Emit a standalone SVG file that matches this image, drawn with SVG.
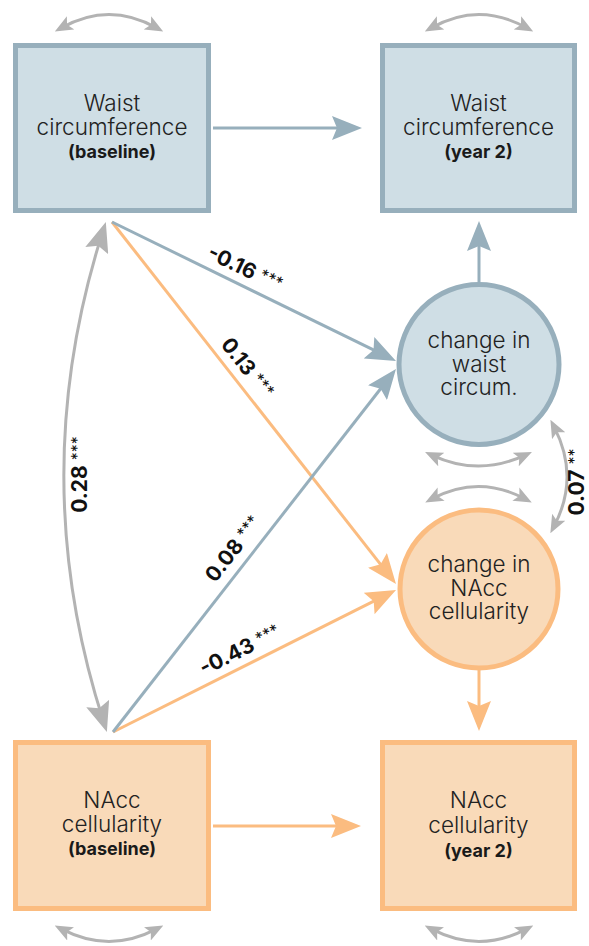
<svg xmlns="http://www.w3.org/2000/svg" width="589" height="946" viewBox="0 0 589 946">
<style>
.bbox{fill:#cfdee5;stroke:#97afbc;stroke-width:5}
.obox{fill:#f9dab9;stroke:#fbbc80;stroke-width:5}
.t{font-family:Inter,"Liberation Sans",sans-serif;font-size:22.5px;font-weight:300;fill:#222;text-anchor:middle}
.s{font-family:Inter,"Liberation Sans",sans-serif;font-size:18px;font-weight:700;fill:#1a1a1a;text-anchor:middle}
.lab{font-family:Inter,"Liberation Sans",sans-serif;font-size:21px;font-weight:700;fill:#111;text-anchor:middle}
.st{font-size:16px;font-weight:400}
.bl{fill:none;stroke:#97afbc;stroke-width:3}
.ol{fill:none;stroke:#fbbc80;stroke-width:3}
.gl{fill:none;stroke:#b3b3b3;stroke-width:3}
</style>
<defs>
<marker id="ab" markerUnits="userSpaceOnUse" markerWidth="30" markerHeight="24" viewBox="0 0 30 24" refX="18" refY="12" orient="auto"><path d="M0,0 L30,12 L0,24 L5,12 z" fill="#97afbc"/></marker>
<marker id="ao" markerUnits="userSpaceOnUse" markerWidth="30" markerHeight="24" viewBox="0 0 30 24" refX="18" refY="12" orient="auto"><path d="M0,0 L30,12 L0,24 L5,12 z" fill="#fbbc80"/></marker>
<marker id="ag" markerUnits="userSpaceOnUse" markerWidth="30" markerHeight="24" viewBox="0 0 30 24" refX="18" refY="12" orient="auto-start-reverse"><path d="M0,0 L30,12 L0,24 L5,12 z" fill="#b3b3b3"/></marker>
<marker id="sg" markerUnits="userSpaceOnUse" markerWidth="18" markerHeight="15" viewBox="0 0 18 15" refX="10" refY="7.5" orient="auto-start-reverse"><path d="M0,0 L18,7.5 L0,15 L4,7.5 z" fill="#b3b3b3"/></marker>
</defs>

<g id="connectors">
<line class="bl" x1="213" y1="128" x2="350" y2="128" marker-end="url(#ab)"/>
<line class="ol" x1="213" y1="826" x2="349" y2="826" marker-end="url(#ao)"/>
<line class="bl" x1="479" y1="282" x2="479" y2="233" marker-end="url(#ab)"/>
<line class="ol" x1="479" y1="670" x2="479" y2="719" marker-end="url(#ao)"/>
<line class="ol" x1="112" y1="222" x2="388.6" y2="574.6" marker-end="url(#ao)"/>
<line class="ol" x1="113" y1="732" x2="385.3" y2="595.4" marker-end="url(#ao)"/>
<line class="bl" x1="112" y1="222" x2="385.2" y2="355.7" marker-end="url(#ab)"/>
<line class="bl" x1="113" y1="732" x2="388.6" y2="378.5" marker-end="url(#ab)"/>
<path class="gl" d="M102.2,233.4 Q25,477 103.2,720.6" marker-start="url(#ag)" marker-end="url(#ag)"/>
<path class="gl" d="M554.1,426.9 Q580,477 554.1,526.1" marker-start="url(#sg)" marker-end="url(#sg)"/>
<path class="gl" d="M61.8,27.7 Q109,1.3 156.2,27.7" marker-start="url(#sg)" marker-end="url(#sg)"/>
<path class="gl" d="M431.8,27.7 Q479,1.3 526.2,27.7" marker-start="url(#sg)" marker-end="url(#sg)"/>
<path class="gl" d="M61.8,929.2 Q109,953.8 156.2,929.2" marker-start="url(#sg)" marker-end="url(#sg)"/>
<path class="gl" d="M431.8,929.2 Q479,953.8 526.2,929.2" marker-start="url(#sg)" marker-end="url(#sg)"/>
<path class="gl" d="M432.3,455.3 Q478.5,476.7 524.7,455.3" marker-start="url(#sg)" marker-end="url(#sg)"/>
<path class="gl" d="M432.3,498.7 Q478.5,474.3 524.7,498.7" marker-start="url(#sg)" marker-end="url(#sg)"/>
<text class="lab" transform="translate(242,275.1) rotate(25.9)">-0.16 <tspan class="st" dy="-4">***</tspan></text>
<text class="lab" transform="translate(241.8,372.4) rotate(51.9)">0.13 <tspan class="st" dy="-4">***</tspan></text>
<text class="lab" transform="translate(238.9,553.3) rotate(-52)">0.08 <tspan class="st" dy="-4">***</tspan></text>
<text class="lab" transform="translate(243.1,656.5) rotate(-26.6)">-0.43 <tspan class="st" dy="-4">***</tspan></text>
<text class="lab" transform="translate(87,474.5) rotate(-90)">0.28 <tspan class="st" dy="-4">***</tspan></text>
<text class="lab" transform="translate(584,482) rotate(-90)">0.07 <tspan class="st" dy="-4">**</tspan></text>
</g>

<g id="waist-baseline">
<rect class="bbox" x="15.5" y="45.5" width="193" height="165"/>
<text class="t" x="112" y="111">Waist</text>
<text class="t" x="112" y="135">circumference</text>
<text class="s" x="112" y="158">(baseline)</text>
</g>
<g id="waist-year2">
<rect class="bbox" x="382.5" y="45.5" width="192" height="165"/>
<text class="t" x="478.5" y="111">Waist</text>
<text class="t" x="478.5" y="135">circumference</text>
<text class="s" x="478.5" y="158">(year 2)</text>
</g>
<g id="change-waist">
<circle class="bbox" cx="479" cy="364.5" r="80"/>
<text class="t" x="479" y="348">change in</text>
<text class="t" x="479" y="372">waist</text>
<text class="t" x="479" y="395">circum.</text>
</g>
<g id="change-nacc">
<circle class="obox" cx="479" cy="589" r="79"/>
<text class="t" x="479" y="572">change in</text>
<text class="t" x="479" y="596">NAcc</text>
<text class="t" x="479" y="619">cellularity</text>
</g>
<g id="nacc-baseline">
<rect class="obox" x="15.5" y="742.5" width="193" height="166"/>
<text class="t" x="112" y="808">NAcc</text>
<text class="t" x="112" y="832">cellularity</text>
<text class="s" x="112" y="855">(baseline)</text>
</g>
<g id="nacc-year2">
<rect class="obox" x="382.5" y="742.5" width="192" height="166"/>
<text class="t" x="478.5" y="808">NAcc</text>
<text class="t" x="478.5" y="833">cellularity</text>
<text class="s" x="478.5" y="857">(year 2)</text>
</g>
</svg>
